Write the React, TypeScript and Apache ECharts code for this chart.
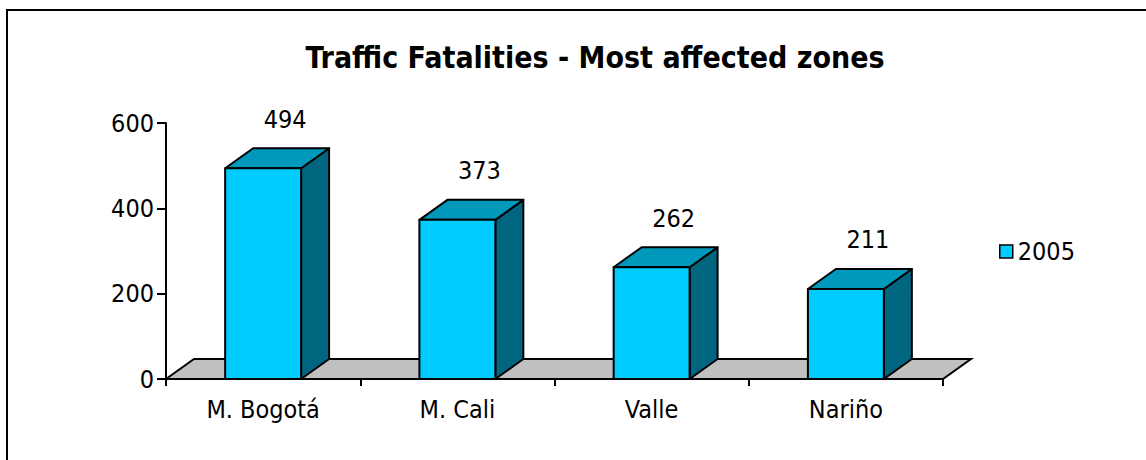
import React, { useEffect, useRef } from "react";
import * as echarts from "echarts";

const categories = ["M. Bogotá", "M. Cali", "Valle", "Nariño"];
const values2005 = [494, 373, 262, 211];
const yTicks = { min: 0, max: 600, interval: 200 };
const seriesName = "2005";
const titleText = "Traffic Fatalities - Most affected zones";

const FONT = "'DejaVu Sans Condensed', 'DejaVu Sans', sans-serif";
const DX = 28;
const DY = 20;

export default function App() {
  const ref = useRef<HTMLDivElement>(null);
  useEffect(() => {
    if (!ref.current) return;
    const chart = echarts.init(ref.current, undefined, { renderer: "svg" });
    const option: any = {
      animation: false,
      backgroundColor: "#fff",
      graphic: [
        {
          type: "rect",
          shape: { x: 7, y: 10, width: 1170, height: 480 },
          style: { fill: "none", stroke: "#000", lineWidth: 2 },
          silent: true,
        },
        {
          type: "text",
          x: 595,
          y: 57,
          style: {
            text: titleText,
            font: `bold 30px ${FONT}`,
            fill: "#000",
            textAlign: "center",
            textVerticalAlign: "middle",
          },
        },
      ],
      legend: {
        data: [seriesName],
        left: 994,
        top: 234,
        icon: "rect",
        itemWidth: 13,
        itemHeight: 13,
        itemGap: 6,
        textStyle: { fontSize: 25, fontFamily: FONT, color: "#000", padding: [0, 0, 0, 0] },
        itemStyle: { color: "#00CCFF", borderColor: "#000", borderWidth: 1.5 },
      },
      grid: { left: 166, top: 123, width: 777, height: 256, containLabel: false },
      xAxis: {
        type: "category",
        data: categories,
        boundaryGap: true,
        axisLine: { show: true, lineStyle: { color: "#000", width: 2 } },
        axisTick: { show: true, interval: 0, length: 7, lineStyle: { color: "#000", width: 2 } },
        axisLabel: { fontSize: 25, fontFamily: FONT, color: "#000", margin: 18 },
        splitLine: { show: false },
        z: 3,
      },
      yAxis: {
        type: "value",
        min: yTicks.min,
        max: yTicks.max,
        interval: yTicks.interval,
        axisLine: { show: true, lineStyle: { color: "#000", width: 2 } },
        axisTick: { show: true, length: 9, lineStyle: { color: "#000", width: 2 } },
        axisLabel: { fontSize: 25, fontFamily: FONT, color: "#000", margin: 12 },
        splitLine: { show: false },
      },
      series: [
        {
          type: "custom",
          name: "floor",
          data: [[0, 0]],
          z: 1,
          silent: true,
          renderItem: (params: any, api: any) => {
            const cs = params.coordSys;
            const x0 = cs.x;
            const x1 = cs.x + cs.width;
            const yb = cs.y + cs.height;
            return {
              type: "polygon",
              shape: {
                points: [
                  [x0, yb],
                  [x0 + DX, yb - DY],
                  [x1 + DX, yb - DY],
                  [x1, yb],
                ],
              },
              style: { fill: "#C0C0C0", stroke: "#000", lineWidth: 2 },
            };
          },
        },
        {
          type: "custom",
          name: seriesName,
          data: values2005.map((v, i) => [i, v]),
          z: 5,
          itemStyle: { color: "#00CCFF", borderColor: "#000", borderWidth: 1.5 },
          encode: { x: 0, y: 1 },
          renderItem: (params: any, api: any) => {
            const idx = api.value(0);
            const val = api.value(1);
            const top = api.coord([idx, val]);
            const base = api.coord([idx, 0]);
            const band = api.size([1, 0])[0];
            const hw = (band * 0.391) / 2;
            const cx = top[0];
            const l = cx - hw;
            const r = cx + hw;
            const ty = top[1];
            const by = base[1];
            const stroke = { stroke: "#000", lineWidth: 2, lineJoin: "round" };
            return {
              type: "group",
              children: [
                {
                  type: "polygon",
                  shape: { points: [[r, ty], [r + DX, ty - DY], [r + DX, by - DY], [r, by]] },
                  style: { fill: "#006680", ...stroke },
                },
                {
                  type: "polygon",
                  shape: { points: [[l, ty], [l + DX, ty - DY], [r + DX, ty - DY], [r, ty]] },
                  style: { fill: "#0099BB", ...stroke },
                },
                {
                  type: "rect",
                  shape: { x: l, y: ty, width: r - l, height: by - ty },
                  style: { fill: "#00CCFF", ...stroke },
                },
                {
                  type: "text",
                  x: cx + 22,
                  y: ty - DY - 29,
                  style: {
                    text: String(val),
                    font: `25px ${FONT}`,
                    fill: "#000",
                    textAlign: "center",
                    textVerticalAlign: "middle",
                  },
                },
              ],
            };
          },
        },
      ],
    };
    chart.setOption(option);
    return () => chart.dispose();
  }, []);
  return (
    <div
      ref={ref}
      style={{ position: "absolute", left: 0, top: 0, width: 1146, height: 460 }}
    />
  );
}
